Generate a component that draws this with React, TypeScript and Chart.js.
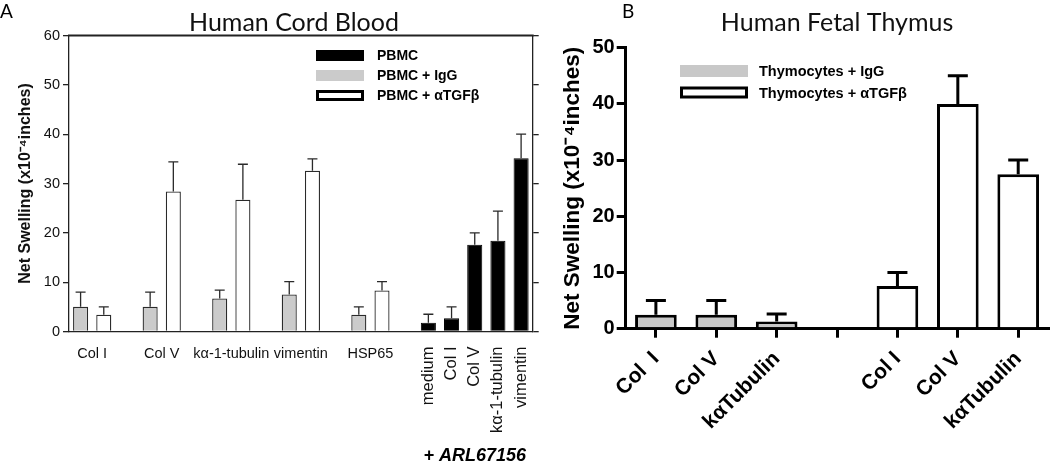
import React, { useEffect, useRef } from 'react';
import { Chart, registerables } from 'chart.js';

Chart.register(...registerables);

// ---------- Panel A: Human Cord Blood ----------
const groupLabelsA = ['Col I', 'Col V', 'kα-1-tubulin', 'vimentin', 'HSP65'];
const igGA = [5.0, 5.0, 6.7, 7.5, 3.4];
const igGErrA = [3.0, 3.0, 1.7, 2.6, 1.6];
const tgfA = [3.4, 28.4, 26.7, 32.6, 8.3];
const tgfErrA = [1.6, 6.0, 7.2, 2.4, 1.8];
const arlLabelsA = ['medium', 'Col I', 'Col V', 'kα-1-tubulin', 'vimentin'];
const pbmcA = [1.75, 2.7, 17.6, 18.4, 35.1];
const pbmcErrA = [1.75, 2.3, 2.4, 6.0, 4.9];
const seriesNamesA = ['PBMC', 'PBMC + IgG', 'PBMC + αTGFβ'];
const yMaxA = 60;
const yStepA = 10;

// ---------- Panel B: Human Fetal Thymus ----------
const labelsB = ['Col  I', 'Col V', 'kαTubulin', '', 'Col I', 'Col V', 'kαTubulin'];
const igGB = [2.5, 2.5, 1.3];
const igGErrB = [2.5, 2.5, 1.3];
const tgfB = [7.6, 40.0, 27.5];
const tgfErrB = [2.4, 5.0, 2.5];
const seriesNamesB = ['Thymocytes + IgG', 'Thymocytes + αTGFβ'];
const yMaxB = 50;
const yStepB = 10;

// slot layout for panel A: [gray, white, gap] x 5 groups, then 5 black bars
const nSlotsA = groupLabelsA.length * 3 + arlLabelsA.length;
const slotsGrayA = groupLabelsA.map((_, g) => g * 3);
const slotsWhiteA = groupLabelsA.map((_, g) => g * 3 + 1);
const slotsBlackA = arlLabelsA.map((_, i) => groupLabelsA.length * 3 + i);
const groupCentersA = groupLabelsA.map((_, g) => g * 3 + 0.5);

const slotsIgGB = [0, 1, 2];
const slotsTgfB = [4, 5, 6];

function spread(n: number, slots: number[], vals: (number | string)[], fill: any = null) {
  const a: any[] = Array(n).fill(fill);
  slots.forEach((s, i) => (a[s] = vals[i]));
  return a;
}

const SANS = '"Liberation Sans", Arial, sans-serif';
const TITLE_FONT = 'Lato, "Open Sans", sans-serif';
const AXIS_A = '#222222';

const errorBarPlugin = {
  id: 'errorBars',
  afterDatasetsDraw(chart: any, _args: any, opts: any) {
    const ctx = chart.ctx;
    const yScale = chart.scales.y;
    ctx.save();
    ctx.strokeStyle = opts.color;
    ctx.lineWidth = opts.lineWidth;
    ctx.lineCap = 'butt';
    chart.data.datasets.forEach((ds: any, di: number) => {
      const meta = chart.getDatasetMeta(di);
      (ds.errorBars || []).forEach((e: any, i: number) => {
        const v = ds.data[i];
        if (e == null || v == null) return;
        const el = meta.data[i];
        const top = yScale.getPixelForValue(v + e);
        ctx.beginPath();
        ctx.moveTo(el.x, el.y);
        ctx.lineTo(el.x, top);
        ctx.moveTo(el.x - opts.capHalf, top);
        ctx.lineTo(el.x + opts.capHalf, top);
        ctx.stroke();
      });
    });
    ctx.restore();
  },
};

const boxLegendPlugin = {
  id: 'boxLegend',
  afterDraw(chart: any, _args: any, opts: any) {
    const ctx = chart.ctx;
    ctx.save();
    ctx.font = opts.font;
    ctx.textBaseline = 'middle';
    ctx.textAlign = 'left';
    opts.order.forEach((di: number, row: number) => {
      const ds = chart.data.datasets[di];
      const cy = opts.y + row * opts.rowH;
      const x = opts.x;
      if (ds.backgroundColor === '#ffffff') {
        ctx.fillStyle = '#ffffff';
        ctx.fillRect(x, cy - opts.swH / 2, opts.swW, opts.swH);
        ctx.strokeStyle = '#000000';
        ctx.lineWidth = opts.outline;
        ctx.strokeRect(x + opts.outline / 2, cy - opts.swH / 2 + opts.outline / 2, opts.swW - opts.outline, opts.swH - opts.outline);
      } else {
        ctx.fillStyle = ds.backgroundColor;
        ctx.fillRect(x, cy - opts.swH / 2, opts.swW, opts.swH);
      }
      ctx.fillStyle = '#000000';
      ctx.fillText(ds.label, opts.textX, cy + 1);
    });
    ctx.restore();
  },
};

// group labels centered between the paired bars (from the x scale), and the
// top edge of the plot frame (from the chart area)
const groupAxisPlugin = {
  id: 'groupAxis',
  afterDraw(chart: any, _args: any, opts: any) {
    if (!opts || !opts.labels) return;
    const ctx = chart.ctx;
    const xs = chart.scales.x;
    const area = chart.chartArea;
    ctx.save();
    ctx.font = opts.font;
    ctx.fillStyle = opts.color;
    ctx.textAlign = 'center';
    ctx.textBaseline = 'middle';
    opts.labels.forEach((t: string, i: number) => {
      ctx.fillText(t, xs.getPixelForValue(opts.centers[i]), area.bottom + opts.offset);
    });
    const lw = opts.frameWidth || 0;
    if (lw > 0) {
      ctx.fillStyle = opts.frameColor;
      ctx.fillRect(area.left - lw / 2, area.top - lw / 2, area.right - area.left + lw, lw);
    }
    ctx.restore();
  },
};

const textPlugin = {
  id: 'extraText',
  afterDraw(chart: any, _args: any, opts: any) {
    const ctx = chart.ctx;
    ctx.save();
    (opts.items || []).forEach((it: any) => {
      ctx.font = it.font;
      ctx.fillStyle = it.color || '#000';
      ctx.textAlign = it.align || 'left';
      ctx.textBaseline = 'middle';
      const x = it.atIndex != null ? chart.scales.x.getPixelForValue(it.atIndex) : it.x;
      ctx.fillText(it.text, x, it.y);
    });
    ctx.restore();
  },
};

export default function App() {
  const refA = useRef<HTMLCanvasElement>(null);
  const refB = useRef<HTMLCanvasElement>(null);

  useEffect(() => {
    Chart.defaults.font.family = SANS;

    const xLabelsA = spread(nSlotsA, slotsBlackA, arlLabelsA, '');

    const chartA = new Chart(refA.current as HTMLCanvasElement, {
      type: 'bar',
      data: {
        labels: xLabelsA,
        datasets: [
          {
            label: seriesNamesA[0],
            data: spread(nSlotsA, slotsBlackA, pbmcA),
            errorBars: spread(nSlotsA, slotsBlackA, pbmcErrA),
            backgroundColor: '#000000',
            borderColor: '#000000',
            borderWidth: 1,
            xAxisID: 'x',
            yAxisID: 'y',
          } as any,
          {
            label: seriesNamesA[1],
            data: spread(nSlotsA, slotsGrayA, igGA),
            errorBars: spread(nSlotsA, slotsGrayA, igGErrA),
            backgroundColor: '#cbcbcb',
            borderColor: '#2a2a2a',
            borderWidth: 1.3,
            xAxisID: 'x',
            yAxisID: 'y',
          } as any,
          {
            label: seriesNamesA[2],
            data: spread(nSlotsA, slotsWhiteA, tgfA),
            errorBars: spread(nSlotsA, slotsWhiteA, tgfErrA),
            backgroundColor: '#ffffff',
            borderColor: '#2a2a2a',
            borderWidth: 1.3,
            xAxisID: 'x',
            yAxisID: 'y',
          } as any,
        ],
      },
      options: {
        animation: false,
        responsive: false,
        layout: { padding: { left: 0, right: 0, top: 0, bottom: 11.5 } },
        datasets: { bar: { grouped: false, barPercentage: 0.65, categoryPercentage: 1 } } as any,
        scales: {
          x: {
            type: 'category',
            axis: 'x',
            display: true,
            position: 'bottom',
            grid: { display: false, drawTicks: false },
            border: { display: true, color: AXIS_A, width: 1.3 },
            ticks: {
              autoSkip: false,
              minRotation: 90,
              maxRotation: 90,
              padding: 15,
              color: '#111111',
              font: { family: SANS, size: 16.5 },
            },
            afterFit: (s: any) => {
              s.height = 120;
            },
          },
          y: {
            type: 'linear',
            axis: 'y',
            display: true,
            position: 'left',
            min: 0,
            max: yMaxA,
            ticks: { stepSize: yStepA, padding: 3, color: '#111111', font: { family: SANS, size: 14.5 } },
            grid: { drawOnChartArea: false, drawTicks: true, tickLength: 6, color: AXIS_A, lineWidth: 1.3 },
            border: { display: true, color: AXIS_A, width: 1.3 },
            title: {
              display: true,
              text: 'Net Swelling (x10⁻⁴inches)',
              color: '#111111',
              font: { family: SANS, size: 16, weight: 'bold' },
              padding: { top: 16, bottom: 0 },
            },
            afterFit: (s: any) => {
              s.width = 69;
            },
          },
          y2: {
            type: 'linear',
            axis: 'y',
            display: true,
            position: 'right',
            min: 0,
            max: yMaxA,
            ticks: { stepSize: yStepA, display: false },
            grid: { drawOnChartArea: false, drawTicks: true, tickLength: 6, color: AXIS_A, lineWidth: 1.3 },
            border: { display: true, color: AXIS_A, width: 1.3 },
            afterFit: (s: any) => {
              s.width = 55.3;
            },
          },
        } as any,
        plugins: {
          legend: { display: false },
          tooltip: { enabled: false },
          title: {
            display: true,
            text: 'Human Cord Blood',
            color: '#111111',
            font: { family: TITLE_FONT, size: 25, weight: 'normal', lineHeight: 1 },
            padding: { top: 10.5, bottom: 0 },
          },
          errorBars: { color: '#2a2a2a', lineWidth: 1.3, capHalf: 5 },
          groupAxis: {
            labels: groupLabelsA,
            centers: groupCentersA,
            offset: 22.5,
            font: `14.5px ${SANS}`,
            color: '#111111',
            frameColor: AXIS_A,
            frameWidth: 2,
          },
          boxLegend: {
            order: [0, 1, 2],
            x: 316,
            y: 55.5,
            rowH: 20,
            swW: 48,
            swH: 11,
            outline: 3,
            textX: 377,
            font: `bold 14px ${SANS}`,
          },
          extraText: {
            items: [
              { text: 'A', x: 0, y: 12, font: `19px ${TITLE_FONT}` },
              { text: '+ ARL67156', atIndex: 17, y: 456, align: 'center', font: `italic bold 18px ${SANS}` },
            ],
          },
        } as any,
      },
      plugins: [errorBarPlugin, groupAxisPlugin, boxLegendPlugin, textPlugin],
    });

    const chartB = new Chart(refB.current as HTMLCanvasElement, {
      type: 'bar',
      data: {
        labels: labelsB,
        datasets: [
          {
            label: seriesNamesB[0],
            data: spread(labelsB.length, slotsIgGB, igGB),
            errorBars: spread(labelsB.length, slotsIgGB, igGErrB),
            backgroundColor: '#c8c8c8',
            borderColor: '#000000',
            borderWidth: 3,
            xAxisID: 'x',
            yAxisID: 'y',
          } as any,
          {
            label: seriesNamesB[1],
            data: spread(labelsB.length, slotsTgfB, tgfB),
            errorBars: spread(labelsB.length, slotsTgfB, tgfErrB),
            backgroundColor: '#ffffff',
            borderColor: '#000000',
            borderWidth: 3,
            xAxisID: 'x',
            yAxisID: 'y',
          } as any,
        ],
      },
      options: {
        animation: false,
        responsive: false,
        layout: { padding: { left: 0, right: 1.6, top: 0, bottom: 10 } },
        datasets: { bar: { grouped: false, barPercentage: 0.69, categoryPercentage: 1 } } as any,
        scales: {
          x: {
            type: 'category',
            axis: 'x',
            display: true,
            position: 'bottom',
            grid: {
              display: true,
              drawOnChartArea: false,
              drawTicks: true,
              tickLength: 9,
              lineWidth: 3,
              color: '#000000',
              offset: false,
            },
            border: { display: true, color: '#000000', width: 3 },
            ticks: {
              autoSkip: false,
              minRotation: 45,
              maxRotation: 45,
              padding: 9,
              color: '#000000',
              font: { family: SANS, size: 21, weight: 'bold' },
            },
            afterFit: (s: any) => {
              s.height = 463 - 328.7 - 10;
            },
          },
          y: {
            type: 'linear',
            axis: 'y',
            display: true,
            position: 'left',
            min: 0,
            max: yMaxB,
            ticks: { stepSize: yStepB, padding: 2, color: '#000000', font: { family: SANS, size: 20, weight: 'bold' } },
            grid: { drawOnChartArea: false, drawTicks: true, tickLength: 9, color: '#000000', lineWidth: 3 },
            border: { display: true, color: '#000000', width: 3 },
            title: {
              display: true,
              text: 'Net Swelling (x10⁻⁴inches)',
              color: '#000000',
              font: { family: SANS, size: 22.5, weight: 'bold' },
              padding: { top: 9, bottom: 0 },
            },
            afterFit: (s: any) => {
              s.width = 75.7;
            },
          },
        } as any,
        plugins: {
          legend: { display: false },
          tooltip: { enabled: false },
          title: {
            display: true,
            fullSize: false,
            text: 'Human Fetal Thymus',
            color: '#111111',
            font: { family: TITLE_FONT, size: 25, weight: 'normal', lineHeight: 1 },
            padding: { top: 10.5, bottom: 12.2 },
          },
          errorBars: { color: '#000000', lineWidth: 3, capHalf: 10 },
          boxLegend: {
            order: [0, 1],
            x: 130,
            y: 71,
            rowH: 21.5,
            swW: 68,
            swH: 12,
            outline: 3,
            textX: 209,
            font: `bold 14.5px ${SANS}`,
          },
          extraText: {
            items: [{ text: 'B', x: 72, y: 12, font: `19px ${TITLE_FONT}` }],
          },
        } as any,
      },
      plugins: [errorBarPlugin, boxLegendPlugin, textPlugin],
    });

    return () => {
      chartA.destroy();
      chartB.destroy();
    };
  }, []);

  return (
    <div style={{ position: 'fixed', left: 0, top: 0, width: 1050, height: 463, background: '#ffffff', overflow: 'hidden' }}>
      <canvas ref={refA} width={588} height={463} style={{ position: 'absolute', left: 0, top: 0, width: 588, height: 463 }} />
      <canvas ref={refB} width={500} height={463} style={{ position: 'absolute', left: 550, top: 0, width: 500, height: 463 }} />
    </div>
  );
}
